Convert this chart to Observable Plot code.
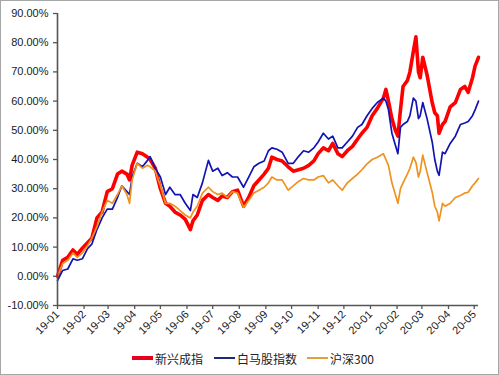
<!DOCTYPE html>
<html>
<head>
<meta charset="utf-8">
<script src="https://cdn.jsdelivr.net/npm/d3@7"></script>
<script src="https://cdn.jsdelivr.net/npm/@observablehq/plot@0.6"></script>
<style>
  html, body { margin: 0; padding: 0; background: #fff; }
  #wrap { position: relative; width: 499px; height: 375px; overflow: hidden; background: #fff; }
  #frame { position: absolute; left: 0; top: 0; width: 499px; height: 375px; box-sizing: border-box; border: 1px solid #a6a6a6; pointer-events: none; }
  #chart { position: absolute; left: 0; top: 0; }
  #legend { position: absolute; left: 0; top: 349px; width: 499px; height: 18px; font-family: "Noto Sans CJK SC", "Liberation Sans", sans-serif; font-size: 12px; color: #222; }
  .item { position: absolute; top: 0; display: flex; align-items: center; height: 18px; white-space: nowrap; }
  .swatch { display: inline-block; width: 21px; margin-right: 2px; }
</style>
</head>
<body>
<div id="wrap">
  <div id="chart"></div>
  <div id="legend"></div>
  <div id="frame"></div>
</div>
<script>
// ---- data (cumulative return, %) ----
const dates = [
  "2019-01-01","2019-01-07","2019-01-13","2019-01-19","2019-01-24","2019-01-30","2019-02-05","2019-02-10",
  "2019-02-16","2019-02-22","2019-02-28","2019-03-06","2019-03-12","2019-03-17","2019-03-23","2019-03-26",
  "2019-03-29","2019-04-04","2019-04-10","2019-04-16","2019-04-19","2019-04-25","2019-05-01","2019-05-07",
  "2019-05-12","2019-05-18","2019-05-24","2019-05-30","2019-06-05","2019-06-08","2019-06-13","2019-06-19",
  "2019-06-26","2019-07-01","2019-07-07","2019-07-12","2019-07-18","2019-07-24","2019-07-30","2019-08-06",
  "2019-08-12","2019-08-18","2019-08-24","2019-08-30","2019-09-04","2019-09-08","2019-09-14","2019-09-20",
  "2019-09-27","2019-10-03","2019-10-09","2019-10-15","2019-10-21","2019-10-27","2019-11-01","2019-11-07",
  "2019-11-13","2019-11-18","2019-11-24","2019-11-29","2019-12-05","2019-12-11","2019-12-17","2019-12-22",
  "2019-12-28","2020-01-03","2020-01-09","2020-01-16","2020-01-19","2020-01-22","2020-01-26","2020-01-30",
  "2020-02-02","2020-02-05","2020-02-08","2020-02-13","2020-02-16","2020-02-20","2020-02-23","2020-02-26",
  "2020-02-28","2020-03-02","2020-03-07","2020-03-13","2020-03-16","2020-03-19","2020-03-21","2020-03-25",
  "2020-03-28","2020-04-03","2020-04-09","2020-04-15","2020-04-20","2020-04-24","2020-04-29","2020-05-02",
  "2020-05-06"
];
const xinxing = [
  0, 5.5, 6.5, 9, 7.5, 9.6, 11.5, 13,
  20, 22, 29, 30, 35, 36, 35, 33,
  38, 42.5, 42, 40.8, 40, 37, 30, 25,
  24, 22, 21, 19.5, 16, 19, 21, 26,
  28, 27, 26, 27.5, 27, 29, 29.5, 24,
  27, 31, 33, 35, 37, 40.8, 40, 39.5,
  37.5, 36, 36.5, 37, 38, 39.5, 42, 44,
  43, 45.5, 42, 41, 43, 44.5, 47, 49,
  51, 55, 57.5, 61, 64, 60, 54, 50,
  48, 57, 65, 67, 70, 77, 82, 70,
  68, 75, 69, 59.5, 56, 55, 49, 52,
  53, 58, 59.5, 64, 65, 63, 68, 72,
  75
];
const baima = [
  -1.5, 2, 2.5, 6, 5.5, 6, 9.5, 11,
  16, 20, 23, 23, 27, 31, 29, 28,
  34, 38.7, 37.5, 39.7, 41, 37, 34, 28,
  30.5, 28, 28, 25, 22.5, 28, 27, 32,
  39.7, 36, 37, 34.5, 35.5, 34, 34, 30.5,
  34, 37.5, 38.7, 39.5, 43, 44, 43.5, 42.5,
  38.7, 38.7, 41, 43, 42.5, 44, 46, 49,
  47, 48, 44, 44, 46, 48, 51, 52,
  55, 57.5, 59.5, 61, 60, 57, 49, 45,
  42, 51, 52, 53, 55, 61, 60, 54,
  55, 59.5, 54, 46, 40, 36, 34.6, 42.5,
  42, 45.5, 48, 52, 52.5, 53, 55, 57,
  60
];
const hs300 = [
  0, 4.4, 5.5, 8, 6.5, 8, 10.5, 13,
  17, 22, 26, 25, 28, 31, 28, 25,
  33, 38.7, 37, 38, 37.5, 36, 31, 25,
  25, 24, 22.5, 21, 20, 22, 24, 28.5,
  30.5, 29, 28, 28.5, 27, 29, 28.5, 23.6,
  26, 28.5, 29.5, 30.5, 32, 34, 33, 33,
  29.5, 31, 32.5, 33.5, 33, 33, 34, 34.5,
  32, 33, 31, 29.5, 32, 33.5, 35, 36.5,
  38.5, 40, 40.8, 42, 40, 38, 32, 28,
  25, 30, 32, 35, 37, 40.8, 39, 34,
  36, 41.5, 35.6, 28.8, 24, 22, 19, 25,
  24, 25, 27, 27.7, 28.5, 28.8, 31, 32,
  33.5
];
const yTicks = [-10, 0, 10, 20, 30, 40, 50, 60, 70, 80, 90];
const monthTicks = [
  "2019-01-01","2019-02-01","2019-03-01","2019-04-01","2019-05-01","2019-06-01","2019-07-01","2019-08-01",
  "2019-09-01","2019-10-01","2019-11-01","2019-12-01","2020-01-01","2020-02-01","2020-03-01","2020-04-01","2020-05-01"
];
const seriesNames = ["新兴成指", "白马股指数", "沪深300"];
const seriesColors = ["#ff0000", "#1313b4", "#f0921e"];
const legendColors = ["#e8001c", "#1c2a78", "#e0a040"];

// ---- build ----
const parse = s => new Date(s + "T00:00:00Z");
const xDomain = [parse("2019-01-01"), parse("2020-05-06")];
const mk = vals => dates.map((d, i) => ({date: parse(d), value: vals[i]}));
const rowsX = mk(xinxing), rowsB = mk(baima), rowsH = mk(hs300);
const tickDates = monthTicks.map(parse);
const fmtMonth = d3.utcFormat("%y-%m");

const chart = Plot.plot({
  width: 499,
  height: 345,
  marginLeft: 57,
  marginRight: 21,
  marginTop: 13,
  marginBottom: 40,
  style: {fontFamily: "'Liberation Sans', Arial, sans-serif", fontSize: "11px", color: "#1a1a1a", background: "transparent", overflow: "visible"},
  x: {type: "utc", domain: xDomain},
  y: {domain: [-10, 90]},
  marks: [
    Plot.axisY(yTicks, {tickSize: 4, tickPadding: 5, tickFormat: d => d.toFixed(2) + "%", label: null, stroke: "#555", strokeWidth: 1.3}),
    Plot.axisX(tickDates, {tickSize: 4, tickPadding: 3, tickRotate: -45, tickFormat: fmtMonth, label: null, stroke: "#555", strokeWidth: 1.3}),
    Plot.line(rowsX, {x: "date", y: "value", stroke: seriesColors[0], strokeWidth: 3.6, strokeLinejoin: "round"}),
    Plot.line(rowsB, {x: "date", y: "value", stroke: seriesColors[1], strokeWidth: 1.7, strokeLinejoin: "round"}),
    Plot.line(rowsH, {x: "date", y: "value", stroke: seriesColors[2], strokeWidth: 1.7, strokeLinejoin: "round"}),
    Plot.ruleX([xDomain[0]], {stroke: "#555", strokeWidth: 1.6}),
    Plot.ruleY([-10], {stroke: "#555", strokeWidth: 1.6})
  ]
});
document.getElementById("chart").appendChild(chart);

// ---- legend ----
const legend = document.getElementById("legend");
const lefts = [132, 214, 307];
const thick = [3.5, 2, 2];
seriesNames.forEach((name, i) => {
  const it = document.createElement("div");
  it.className = "item";
  it.style.left = lefts[i] + "px";
  const sw = document.createElement("span");
  sw.className = "swatch";
  sw.style.height = thick[i] + "px";
  sw.style.background = legendColors[i];
  const tx = document.createElement("span");
  tx.textContent = name;
  it.appendChild(sw);
  it.appendChild(tx);
  legend.appendChild(it);
});
</script>
</body>
</html>
